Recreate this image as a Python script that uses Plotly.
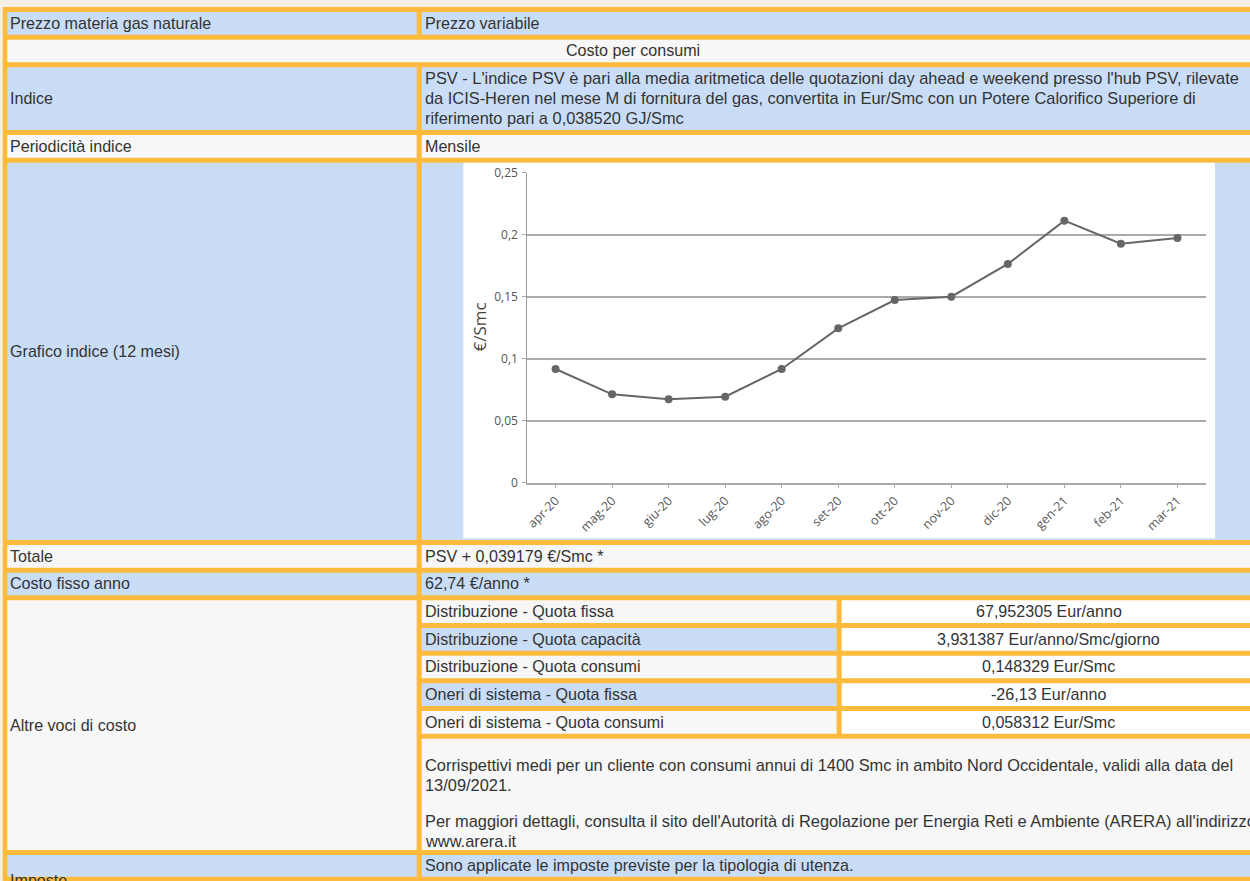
import plotly.graph_objects as go

# ---------------- data ----------------
months = ["apr-20", "mag-20", "giu-20", "lug-20", "ago-20", "set-20",
          "ott-20", "nov-20", "dic-20", "gen-21", "feb-21", "mar-21"]
psv_values = [0.0917, 0.0713, 0.0672, 0.0694, 0.0917, 0.1245,
              0.1473, 0.1500, 0.1764, 0.2113, 0.1927, 0.1973]
y_tick_values = [0, 0.05, 0.1, 0.15, 0.2, 0.25]
y_tick_labels = ["0", "0,05", "0,1", "0,15", "0,2", "0,25"]
y_axis_title = "€/Smc"

section_title = "Costo per consumi"
row_labels = ["Prezzo materia gas naturale", "Indice", "Periodicità indice",
              "Grafico indice (12 mesi)", "Totale", "Costo fisso anno",
              "Altre voci di costo", "Imposte"]
index_lines = [
    "PSV - L'indice PSV è pari alla media aritmetica delle quotazioni day ahead e weekend presso l'hub PSV, rilevate",
    "da ICIS-Heren nel mese M di fornitura del gas, convertita in Eur/Smc con un Potere Calorifico Superiore di",
    "riferimento pari a 0,038520 GJ/Smc",
]
simple_values = {
    "Prezzo materia gas naturale": "Prezzo variabile",
    "Periodicità indice": "Mensile",
    "Totale": "PSV + 0,039179 €/Smc *",
    "Costo fisso anno": "62,74 €/anno *",
    "Imposte": "Sono applicate le imposte previste per la tipologia di utenza.",
}
sub_labels = ["Distribuzione - Quota fissa", "Distribuzione - Quota capacità",
              "Distribuzione - Quota consumi", "Oneri di sistema - Quota fissa",
              "Oneri di sistema - Quota consumi"]
sub_values = ["67,952305 Eur/anno", "3,931387 Eur/anno/Smc/giorno",
              "0,148329 Eur/Smc", "-26,13 Eur/anno", "0,058312 Eur/Smc"]
note_lines = [
    "Corrispettivi medi per un cliente con consumi annui di 1400 Smc in ambito Nord Occidentale, validi alla data del",
    "13/09/2021.",
    "Per maggiori dettagli, consulta il sito dell'Autorità di Regolazione per Energia Reti e Ambiente (ARERA) all'indirizzo",
    "www.arera.it",
]

# ---------------- style / geometry ----------------
W, H = 1250, 881
BEIGE = "#f4f0e6"
ORANGE = "#fcbb3c"
BLUE = "#c9ddf7"
GRAY = "#f7f7f7"
WHITE = "#ffffff"
TXT = "#333333"
FONT = "Liberation Sans, Arial, sans-serif"
CFONT = "Open Sans, sans-serif"
FS = 16.1
FS_LONG = 16.4

L0, L1 = 7.33, 416.67      # left column
R0, R1 = 421.67, 1262.0    # right column
S1 = 836.67                # nested table split
S2 = 841.67

def X(v):
    return v / W

def Y(v):
    return 1 - v / H

shapes = []
annotations = []

def rect(x0, y0, x1, y1, color):
    shapes.append(dict(type="rect", xref="paper", yref="paper",
                       x0=X(x0), x1=X(x1), y0=Y(y1), y1=Y(y0),
                       fillcolor=color, line=dict(width=0), layer="below"))

def text(x, y, s, anchor="left", size=FS, color=TXT, family=FONT):
    annotations.append(dict(xref="paper", yref="paper", x=X(x), y=Y(y),
                            text=s, showarrow=False, xanchor=anchor,
                            yanchor="middle", align=anchor,
                            font=dict(family=family, size=size, color=color)))

# table background (orange border color)
rect(2.7, 7.0, 1270, 890, ORANGE)

rows = {
    "Prezzo materia gas naturale": (12.0, 34.67, BLUE, BLUE),
    "Indice": (67.33, 130.0, BLUE, BLUE),
    "Periodicità indice": (135.0, 157.67, GRAY, GRAY),
    "Grafico indice (12 mesi)": (162.67, 540.0, BLUE, BLUE),
    "Totale": (545.0, 567.67, GRAY, GRAY),
    "Costo fisso anno": (572.67, 595.33, BLUE, BLUE),
    "Altre voci di costo": (600.33, 850.0, GRAY, GRAY),
    "Imposte": (855.0, 876.67, BLUE, BLUE),
}
rect(L0, 39.67, R1, 62.33, GRAY)
text(633, 50.3, section_title, anchor="center")

for lab in row_labels:
    t, b, cl, cr = rows[lab]
    rect(L0, t, L1, b, cl)
    if lab != "Altre voci di costo":
        rect(R0, t, R1, b, cr)
    ylab = (t + b) / 2 - 0.6
    if lab == "Imposte":
        ylab = 879.5
    text(8.0, ylab, lab)
    if lab in simple_values:
        text(422.8, (t + b) / 2 - 0.6, simple_values[lab])

for i, line in enumerate(index_lines):
    text(422.8, 78.2 + 20 * i, line, size=FS_LONG)

rect(463.3, 162.67, 1215.0, 538.3, WHITE)

sub_colors = [GRAY, BLUE, GRAY, BLUE, GRAY]
sub_top = 600.33
pitch = 27.67
for i, (sl, sv) in enumerate(zip(sub_labels, sub_values)):
    t = sub_top + pitch * i
    b = t + 22.67
    rect(R0, t, S1, b, sub_colors[i])
    rect(S2, t, R1, b, WHITE)
    text(422.8, (t + b) / 2 - 0.6, sl)
    text(1048.5, (t + b) / 2 - 0.6, sv, anchor="center")
rect(R0, 738.67, R1, 850.0, GRAY)
note_y = [765.2, 785.2, 821.2, 841.2]
for s, yy in zip(note_lines, note_y):
    text(422.8, yy, s, size=FS_LONG)

annotations.append(dict(xref="paper", yref="paper", x=X(479), y=Y(327.5),
                        text=y_axis_title, showarrow=False, textangle=-90,
                        xanchor="center", yanchor="middle",
                        font=dict(family=CFONT, size=17, color="#444")))

# ---------------- figure ----------------
fig = go.Figure()
fig.add_trace(go.Scatter(
    x=months, y=psv_values, mode="lines+markers",
    line=dict(color="#666666", width=2),
    marker=dict(color="#666666", size=8),
    hoverinfo="skip", showlegend=False))

fig.update_layout(
    template="none",
    width=W, height=H, autosize=False,
    margin=dict(l=0, r=0, t=0, b=0, pad=0, autoexpand=False),
    paper_bgcolor=BEIGE, plot_bgcolor="rgba(0,0,0,0)",
    separators=",.", showlegend=False,
    shapes=shapes, annotations=annotations,
    xaxis=dict(domain=[527.3 / W, 1205.7 / W], type="category",
               range=[-0.5, 11.5], showgrid=False, zeroline=False,
               showline=True, linecolor="#aaaaaa", linewidth=1.5,
               ticks="outside", ticklen=4, tickcolor="#aaaaaa", tickwidth=1,
               tickangle=-45, automargin=False,
               tickfont=dict(family=CFONT, size=12.5, color="#5a5a5a"),
               fixedrange=True),
    yaxis=dict(domain=[1 - 482.7 / H, 1 - 172.7 / H],
               range=[0, 0.25], tickvals=y_tick_values, ticktext=y_tick_labels,
               showgrid=True, gridcolor="#aaaaaa", gridwidth=1.5,
               zeroline=False, showline=True, linecolor="#999999",
               linewidth=1, ticks="outside", ticklen=4, tickcolor="#aaaaaa",
               automargin=False, ticklabelstandoff=2,
               tickfont=dict(family=CFONT, size=12, color="#555555"),
               fixedrange=True),
)

fig.write_html("out.html", config={"displayModeBar": False},
               post_script="document.documentElement.style.margin='0';document.body.style.margin='0';document.body.style.padding='0';document.documentElement.style.overflow='hidden';document.body.style.overflow='hidden';document.documentElement.style.background='#f4f0e6';document.body.style.background='#f4f0e6';")
